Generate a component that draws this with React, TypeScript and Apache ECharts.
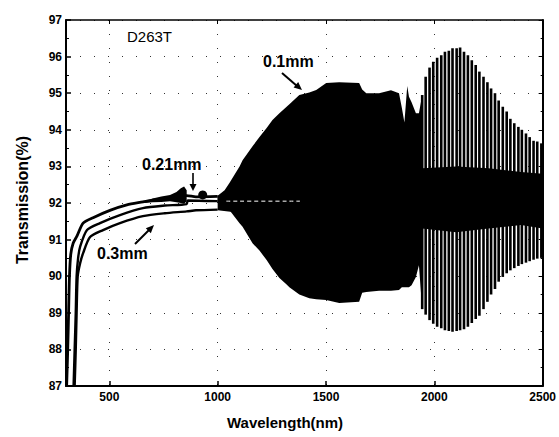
import React, { useEffect, useRef } from "react";
import * as echarts from "echarts";

const FONT = "'Liberation Sans', Arial, Helvetica, sans-serif";

const X_TICKS = [500, 1000, 1500, 2000, 2500];

// 0.1 mm sheet: smooth part of the spectrum (nm, %)
const WL_01 = [303, 308, 312, 316, 322, 333, 351, 379, 425, 503, 581, 655, 700, 779, 857, 900, 1000];
const T_01 = [87, 88, 89, 90, 90.6, 90.9, 91.1, 91.45, 91.6, 91.8, 91.95, 92.03, 92.08, 92.13, 92.2, 92.17, 92.18];

// 0.21 mm sheet
const WL_021 = [335, 340, 345, 349, 356, 365, 397, 457, 549, 655, 756, 857, 862, 1000];
const T_021 = [87, 88, 89, 90, 90.5, 90.8, 91.26, 91.45, 91.67, 91.86, 91.93, 91.97, 92.07, 92.05];

// 0.3 mm sheet
const WL_03 = [340, 345, 349, 354, 365, 379, 411, 471, 549, 655, 756, 857, 900, 1000];
const T_03 = [87, 88, 89, 90, 90.35, 90.63, 91.07, 91.26, 91.45, 91.64, 91.72, 91.77, 91.8, 91.82];

// 0.1 mm sheet: noisy stretch just below the detector change
const NOISE_NM = [660, 700, 740, 780, 810, 830, 845, 857];
const NOISE_HI = [92.05, 92.12, 92.18, 92.22, 92.3, 92.4, 92.45, 92.35];
const NOISE_LO = [92.0, 92.02, 92.03, 92.05, 92.02, 92.0, 91.98, 92.05];

// spike on the 0.1 mm trace
const SPIKE = [[931, 92.22]];

// 0.1 mm sheet: envelope of the dense interference fringes
const ENV_NM = [1000, 1032, 1055, 1101, 1115, 1161, 1193, 1226, 1253, 1285, 1317, 1331, 1377, 1423, 1455, 1501, 1561, 1653, 1667, 1686, 1745, 1800, 1837, 1850, 1862, 1875, 1883, 1895, 1915, 1929, 1944];
const ENV_HI = [92.2, 92.35, 92.55, 93.0, 93.17, 93.55, 93.8, 94.05, 94.27, 94.45, 94.62, 94.7, 94.95, 95.02, 95.09, 95.28, 95.3, 95.28, 95.1, 95.0, 95.0, 95.08, 95.0, 94.6, 94.2, 95.2, 94.9, 94.75, 94.45, 94.45, 94.95];
const ENV_LO = [92.0, 91.9, 91.8, 91.45, 91.35, 90.9, 90.7, 90.44, 90.2, 89.95, 89.78, 89.7, 89.5, 89.4, 89.37, 89.35, 89.27, 89.3, 89.55, 89.57, 89.6, 89.6, 89.62, 89.7, 89.7, 89.7, 89.7, 89.75, 89.98, 90.3, 89.1];

// 0.1 mm sheet: resolved fringes beyond 1950 nm (position, max, min)
const FRINGE_NM = [1944, 1960, 1978, 1995, 2013, 2032, 2049, 2067, 2084, 2103, 2119, 2137, 2155, 2173, 2191, 2208, 2227, 2245, 2262, 2280, 2297, 2316, 2334, 2351, 2369, 2388, 2404, 2423, 2440, 2458, 2475, 2494];
const FRINGE_HI = [94.95, 95.45, 95.7, 95.86, 95.97, 96.04, 96.13, 96.16, 96.23, 96.23, 96.25, 96.13, 96.04, 95.9, 95.77, 95.59, 95.45, 95.3, 95.13, 95.0, 94.8, 94.63, 94.5, 94.3, 94.18, 94.08, 94.0, 93.9, 93.8, 93.7, 93.68, 93.63];
const FRINGE_LO = [89.1, 88.95, 88.8, 88.7, 88.62, 88.58, 88.52, 88.5, 88.48, 88.5, 88.52, 88.55, 88.62, 88.72, 88.83, 88.92, 89.1, 89.3, 89.5, 89.65, 89.85, 89.98, 90.08, 90.16, 90.22, 90.28, 90.33, 90.37, 90.41, 90.45, 90.48, 90.5];

// 0.21 / 0.3 mm sheets: fringe band in the near infrared
const THICK_NM = [1000, 1300, 1600, 1944, 2100, 2250, 2400, 2500];
const THICK_HI = [92.2, 92.5, 92.8, 92.95, 93.0, 92.95, 92.85, 92.8];
const THICK_LO = [91.8, 91.6, 91.45, 91.3, 91.2, 91.3, 91.4, 91.3];

// 0.21 mm trace showing through the 0.1 mm fringes
const TRACE_NM = [1040, 1380];
const TRACE_T = [92.05, 92.05];

const pairs = (xs: number[], ys: number[]) => xs.map((x, i) => [x, ys[i]]);

function bandSeries(name: string, xs: number[], hi: number[], lo: number[], z: number) {
  return {
    name,
    type: "custom",
    coordinateSystem: "cartesian2d",
    silent: true,
    z,
    data: [[xs[0], hi[0]]],
    renderItem: (_p: any, api: any) => {
      const pts: number[][] = [];
      for (let i = 0; i < xs.length; i++) pts.push(api.coord([xs[i], hi[i]]));
      for (let i = xs.length - 1; i >= 0; i--) pts.push(api.coord([xs[i], lo[i]]));
      return { type: "polygon", shape: { points: pts }, style: { fill: "#000" } };
    },
  };
}

function lineSeries(name: string, xs: number[], ys: number[], width = 2.4, color = "#000", dash: any = "solid") {
  return {
    name,
    type: "line",
    data: pairs(xs, ys),
    showSymbol: false,
    smooth: 0.25,
    silent: true,
    z: 4,
    lineStyle: { color, width, type: dash },
  };
}

const arrowHead = (pts: number[][]) => ({
  type: "polygon",
  silent: true,
  shape: { points: pts },
  style: { fill: "#000" },
});

const label = (text: string, x: number, y: number, size: number, weight: string) => ({
  type: "text",
  x,
  y,
  silent: true,
  style: { text, fontFamily: FONT, fontSize: size, fontWeight: weight, fill: "#000", align: "left", verticalAlign: "middle" },
});

export default function App() {
  const ref = useRef<HTMLDivElement>(null);

  useEffect(() => {
    if (!ref.current) return;
    const chart = echarts.init(ref.current, null, { renderer: "svg" });

    const dotted = { color: "#333", width: 1, type: [1, 13] };
    const axisLabelStyle = { fontFamily: FONT, fontSize: 12, fontWeight: "bold", color: "#000" };

    chart.setOption({
      animation: false,
      backgroundColor: "#fff",
      grid: { left: 66, right: 14, top: 20, bottom: 51, containLabel: false },
      xAxis: [
        {
          type: "value",
          min: 300,
          max: 2500,
          axisLine: { lineStyle: { color: "#000", width: 2 } },
          axisTick: { inside: true, length: 5, customValues: X_TICKS, lineStyle: { color: "#000", width: 1.5 } },
          axisLabel: { customValues: X_TICKS, margin: 5, formatter: (v: number) => String(v), ...axisLabelStyle },
          splitLine: { show: true, lineStyle: dotted },
        },
        {
          type: "value",
          position: "top",
          min: 300,
          max: 2500,
          axisLine: { show: true, lineStyle: { color: "#000", width: 1.5 } },
          axisTick: { inside: true, length: 4, customValues: X_TICKS, lineStyle: { color: "#000" } },
          axisLabel: { show: false },
          splitLine: { show: false },
        },
      ],
      yAxis: [
        {
          type: "value",
          min: 87,
          max: 97,
          interval: 1,
          axisLine: { show: true, lineStyle: { color: "#000", width: 2 } },
          axisTick: { show: true, inside: true, length: 5, lineStyle: { color: "#000", width: 1.5 } },
          minorTick: { show: true, splitNumber: 2, length: 3, lineStyle: { color: "#000" } },
          axisLabel: { margin: 4, ...axisLabelStyle },
          splitLine: { show: true, lineStyle: dotted },
        },
        {
          type: "value",
          position: "right",
          min: 87,
          max: 97,
          interval: 1,
          axisLine: { show: true, lineStyle: { color: "#000", width: 2 } },
          axisTick: { show: true, inside: true, length: 4, lineStyle: { color: "#000" } },
          minorTick: { show: true, splitNumber: 2, length: 2, lineStyle: { color: "#000" } },
          axisLabel: { show: false },
          splitLine: { show: false },
        },
      ],
      series: [
        bandSeries("0.21/0.3mm fringes", THICK_NM, THICK_HI, THICK_LO, 2),
        bandSeries("0.1mm fringe envelope", ENV_NM, ENV_HI, ENV_LO, 3),
        bandSeries("0.1mm noise", NOISE_NM, NOISE_HI, NOISE_LO, 3),
        {
          name: "0.1mm fringes",
          type: "custom",
          coordinateSystem: "cartesian2d",
          silent: true,
          z: 3,
          encode: { x: 0, y: [1, 2] },
          data: FRINGE_NM.map((x, i) => [x, FRINGE_LO[i], FRINGE_HI[i]]),
          renderItem: (_p: any, api: any) => {
            const top = api.coord([api.value(0), api.value(2)]);
            const bot = api.coord([api.value(0), api.value(1)]);
            return {
              type: "rect",
              shape: { x: top[0] - 1.3, y: top[1], width: 2.6, height: bot[1] - top[1] },
              style: { fill: "#000" },
            };
          },
        },
        lineSeries("0.1mm", WL_01, T_01, 2.8),
        lineSeries("0.21mm", WL_021, T_021, 2.4),
        lineSeries("0.3mm", WL_03, T_03, 2.4),
        lineSeries("0.21mm trace", TRACE_NM, TRACE_T, 1, "#fff", [4, 3]),
        {
          name: "spike",
          type: "scatter",
          data: SPIKE,
          symbolSize: 9,
          silent: true,
          z: 5,
          itemStyle: { color: "#000", opacity: 1 },
        },
      ],
      graphic: [
        label("D263T", 127, 36, 15, "normal"),
        label("0.1mm", 263, 61, 16, "bold"),
        label("0.21mm", 142, 164, 16, "bold"),
        label("0.3mm", 97, 253, 16, "bold"),
        { type: "line", silent: true, shape: { x1: 282, y1: 73, x2: 297, y2: 86 }, style: { stroke: "#000", lineWidth: 2 } },
        arrowHead([[302, 90], [293.6, 87.5], [298.2, 82.1]]),
        { type: "line", silent: true, shape: { x1: 193, y1: 173, x2: 193, y2: 185 }, style: { stroke: "#000", lineWidth: 1.6 } },
        arrowHead([[189.5, 184], [196.5, 184], [193, 191]]),
        { type: "line", silent: true, shape: { x1: 135, y1: 244, x2: 149, y2: 230 }, style: { stroke: "#000", lineWidth: 2 } },
        arrowHead([[154, 225], [150.8, 233.2], [145.8, 228.2]]),
        {
          type: "text",
          x: 285,
          y: 422,
          silent: true,
          style: { text: "Wavelength(nm)", fontFamily: FONT, fontSize: 15, fontWeight: "bold", fill: "#000", align: "center", verticalAlign: "middle" },
        },
        {
          type: "text",
          x: 22,
          y: 200,
          rotation: Math.PI / 2,
          silent: true,
          style: { text: "Transmission(%)", fontFamily: FONT, fontSize: 16, fontWeight: "bold", fill: "#000", align: "center", verticalAlign: "middle" },
        },
      ],
    });

    return () => chart.dispose();
  }, []);

  return <div ref={ref} style={{ position: "fixed", left: 0, top: 0, width: 559, height: 437, background: "#fff" }} />;
}
